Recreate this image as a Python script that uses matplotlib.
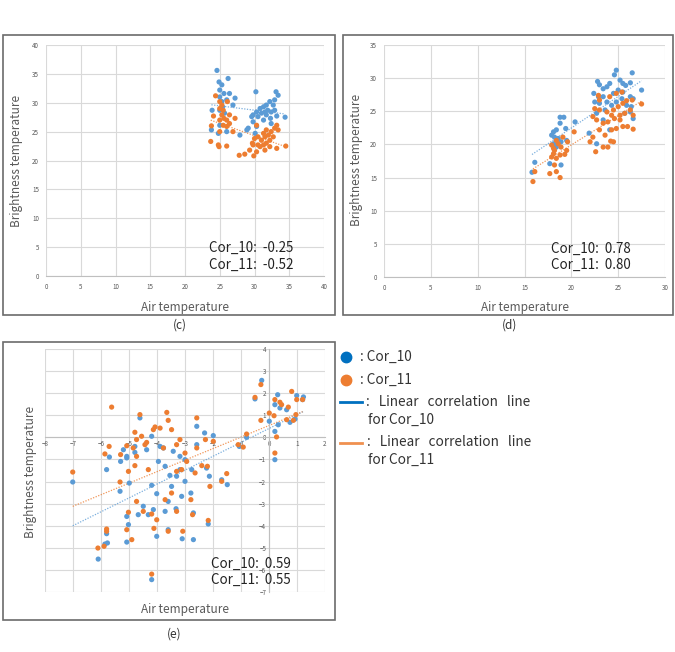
import numpy as np
import matplotlib
matplotlib.use("Agg")
import matplotlib.pyplot as plt
from matplotlib.patches import Rectangle
from matplotlib.lines import Line2D

plt.rcParams['font.family'] = ['Noto Sans CJK KR', 'DejaVu Sans']

BLUE = '#5B9BD5'
ORANGE = '#ED7D31'
GRID = '#D9D9D9'
TXT = '#595959'

# ---------------- Panel (c) data ----------------
c_x10 = [24.6, 24.9, 26.2, 25.3, 25.0, 25.6, 25.0, 26.4, 25.3, 26.0, 27.2, 23.9, 26.9, 25.0, 25.4, 25.7,
         24.8, 26.0, 23.8, 25.0, 30.2, 33.1, 33.4, 32.9, 29.6, 29.8, 30.3, 30.8, 31.3, 31.7, 32.2, 32.7,
         32.9, 32.4, 31.7, 31.3, 30.5, 31.0, 31.9, 31.5, 32.3, 33.2, 34.4, 30.3, 29.1, 27.9, 30.1, 28.9,
         32.4, 29.8]
c_y10 = [35.6, 33.6, 34.2, 33.1, 32.2, 31.6, 31.0, 31.6, 30.2, 30.5, 30.8, 28.7, 29.6, 28.7, 29.3, 28.2,
         24.7, 25.0, 25.3, 26.1, 31.9, 31.9, 31.3, 30.5, 27.6, 26.7, 28.4, 29.0, 29.3, 29.6, 30.2, 29.6,
         28.7, 28.4, 27.9, 27.0, 27.6, 28.2, 28.7, 28.4, 27.3, 27.7, 27.5, 25.9, 25.6, 24.4, 24.7, 25.3,
         26.4, 27.9]
c_x11 = [24.4, 24.1, 23.8, 23.7, 24.8, 24.9, 26.0, 25.0, 25.3, 25.0, 25.5, 25.3, 25.6, 25.0, 26.0, 25.5,
         26.0, 26.4, 27.2, 26.4, 26.9, 26.1, 25.0, 27.8, 28.6, 29.3, 29.9, 30.3, 29.7, 30.0, 30.5, 31.0,
         31.5, 32.0, 32.4, 32.9, 33.2, 33.4, 31.3, 31.7, 32.2, 32.7, 30.8, 31.5, 33.2, 34.5, 30.3, 32.2,
         30.5, 31.3, 29.8, 31.7]
c_y11 = [31.2, 27.7, 26.0, 23.3, 22.7, 22.4, 22.5, 30.2, 29.6, 29.0, 28.7, 27.9, 27.3, 27.0, 27.0, 26.1,
         25.9, 27.9, 27.3, 26.4, 25.0, 30.2, 25.0, 20.9, 21.1, 21.8, 20.8, 21.5, 23.0, 23.8, 24.1, 23.5,
         24.1, 24.4, 25.0, 25.6, 26.1, 25.3, 22.7, 23.0, 23.5, 24.1, 22.4, 21.8, 22.1, 22.5, 26.1, 22.4,
         22.7, 24.7, 22.7, 25.3]

# ---------------- Panel (d) data ----------------
d_x10 = [15.8, 16.1, 17.7, 17.9, 18.1, 18.4, 18.8, 19.2, 18.8, 19.4, 18.2, 18.6, 18.1, 18.4, 18.9, 19.5,
         18.9, 20.4, 21.9, 22.7, 22.8, 23.0, 23.4, 23.8, 24.1, 24.8, 24.6, 25.2, 25.5, 25.8, 26.3, 26.5,
         27.5, 22.4, 22.9, 23.4, 24.5, 25.0, 25.5, 26.3, 26.6, 22.5, 23.0, 23.8, 24.3, 24.8, 25.9, 26.4,
         26.6, 24.1, 23.4, 22.7, 25.7, 26.3, 23.6, 25.4]
d_y10 = [15.8, 17.3, 17.1, 21.4, 21.9, 22.2, 24.1, 24.1, 23.2, 22.4, 21.1, 20.9, 20.1, 19.6, 20.4, 20.6,
         16.9, 23.4, 21.7, 20.1, 29.5, 29.0, 28.4, 28.7, 29.2, 31.2, 30.5, 29.7, 29.2, 28.9, 29.3, 30.8,
         28.2, 27.7, 27.2, 27.2, 27.7, 28.2, 27.9, 27.2, 26.9, 26.4, 26.2, 26.4, 25.9, 26.4, 25.9, 25.7,
         23.9, 22.2, 23.7, 24.7, 24.7, 24.9, 25.2, 26.9]
d_x11 = [15.9, 16.1, 17.7, 18.4, 18.8, 18.2, 17.9, 18.1, 18.4, 18.8, 18.2, 17.9, 18.1, 18.6, 18.9, 19.3,
         19.5, 19.1, 18.4, 19.6, 20.3, 22.0, 22.6, 22.3, 23.4, 23.9, 24.2, 24.5, 23.0, 23.6, 24.3, 24.8,
         25.5, 26.0, 26.6, 22.7, 23.4, 23.9, 24.6, 25.2, 25.7, 26.3, 22.5, 23.0, 23.8, 24.5, 25.0, 25.5,
         25.9, 26.5, 23.0, 24.1, 24.8, 25.4, 22.9, 27.5, 26.6, 22.3, 24.3, 25.2]
d_y11 = [14.4, 15.9, 15.6, 15.9, 15.0, 16.9, 18.1, 18.6, 17.9, 18.4, 19.1, 19.9, 19.4, 20.1, 19.6, 18.5,
         19.1, 21.1, 20.6, 20.4, 21.9, 20.4, 18.9, 21.1, 19.6, 19.6, 20.5, 20.4, 22.2, 21.4, 22.2, 22.4,
         22.7, 22.7, 22.3, 23.7, 23.2, 23.4, 23.9, 24.4, 24.7, 25.2, 25.4, 25.2, 24.9, 25.2, 25.7, 26.2,
         26.6, 26.7, 26.7, 27.2, 27.7, 27.9, 27.4, 26.1, 24.4, 24.2, 24.4, 23.7]

# ---------------- Panel (e) data ----------------
e_x10 = [-7.01, -5.80, -5.70, -6.10, -5.86, -5.77, -5.80, -5.32, -5.30, -5.08, -5.08, -4.99, -5.08, -5.02,
         -5.08, -4.79, -4.79, -4.61, -4.67, -4.49, -4.31, -4.19, -4.19, -4.01, -4.01, -4.13, -3.95, -3.77,
         -3.71, -3.60, -3.71, -3.60, -3.54, -3.48, -3.30, -3.18, -3.10, -3.12, -3.32, -3.00, -3.00, -3.18,
         -3.42, -2.76, -2.79, -2.70, -2.70, -2.58, -2.58, -2.30, -1.99, -2.23, -2.13, -2.17, -1.69, -1.49,
         -0.80, -1.06, -0.50, -0.26, 0.01, 0.21, 0.21, 0.21, 0.31, 0.33, 0.39, 0.75, 0.93, 0.99, 1.23,
         1.20, 0.63, -3.89, -4.37, -4.19, -5.20]
e_y10 = [-2.02, -1.46, -0.89, -5.51, -4.83, -4.78, -4.36, -2.44, -1.09, -0.93, -0.86, -2.07, -3.58, -3.95,
         -4.74, -0.68, -0.41, 0.88, -3.50, -3.12, -3.50, -6.44, -2.17, -2.55, -4.48, -3.27, -1.09, -0.48,
         -1.31, -4.18, -3.35, -2.90, -1.72, -2.22, -1.76, -1.46, -4.59, -2.67, -3.23, -1.99, -1.01, -0.86,
         -0.63, -1.46, -2.52, -3.42, -4.63, 0.50, -0.33, 0.20, 0.08, -1.39, -1.76, -3.92, -1.92, -2.14,
         0.00, -0.41, 1.74, 2.58, 0.73, 0.27, -1.01, 1.48, 1.93, 0.57, 1.33, 0.68, 0.83, 1.89, 1.83,
         1.71, 1.25, -0.41, -0.56, 0.05, -0.56]
e_x11 = [-7.01, -5.62, -6.11, -5.89, -5.80, -5.80, -5.71, -5.86, -5.32, -5.30, -5.08, -5.02, -5.02, -5.08,
         -4.90, -4.79, -4.73, -4.61, -4.73, -4.79, -4.73, -4.49, -4.37, -4.31, -4.19, -4.19, -4.13, -4.07,
         -4.01, -4.11, -3.89, -3.77, -3.65, -3.60, -3.48, -3.71, -3.60, -3.48, -3.30, -3.18, -3.30, -3.12,
         -3.08, -3.30, -3.00, -2.94, -2.79, -2.73, -2.58, -2.58, -2.64, -2.40, -2.20, -2.27, -1.99, -2.11,
         -2.17, -1.69, -1.51, -1.10, -0.92, -0.80, -0.50, -0.29, -0.29, 0.01, 0.18, 0.21, 0.27, 0.21,
         0.39, 0.45, 0.69, 0.81, 0.96, 0.99, 1.20, 0.63, 0.87, -4.85, -4.55, -4.43]
e_y11 = [-1.57, 1.37, -5.01, -4.93, -4.15, -4.25, -0.41, -0.75, -2.02, -0.78, -0.38, -1.54, -3.39, -4.18,
         -4.63, 0.23, -0.10, 1.03, -0.86, -1.28, -2.90, -3.35, -0.23, -1.46, -6.19, -3.47, 0.35, 0.47,
         -3.73, -4.12, 0.42, -0.48, 1.13, 0.77, 0.35, -2.82, -4.25, -2.52, -0.33, -0.10, -1.54, -1.46,
         -4.25, -3.35, -0.71, -1.09, -2.82, -3.50, 0.88, -0.48, -1.61, -1.28, -1.31, -0.10, -0.18, -2.22,
         -3.76, -1.99, -1.64, -0.33, -0.44, 0.15, 1.81, 2.39, 0.77, 1.10, 0.98, 1.71, 0.02, -0.71,
         1.59, 1.48, 1.37, 2.08, 1.03, 1.71, 1.71, 0.80, 0.77, -0.48, 0.05, -0.33]

cor_c = ["Cor_10:  -0.25", "Cor_11:  -0.52"]
cor_d = ["Cor_10:  0.78", "Cor_11:  0.80"]
cor_e = ["Cor_10:  0.59", "Cor_11:  0.55"]

W, H = 675, 652
fig = plt.figure(figsize=(W / 100, H / 100), dpi=100)


def fr(x0, y0, x1, y1):
    return [x0 / W, 1 - y1 / H, (x1 - x0) / W, (y1 - y0) / H]


def frame(x0, y0, x1, y1):
    fig.add_artist(Rectangle((x0 / W, 1 - y1 / H), (x1 - x0) / W, (y1 - y0) / H,
                             transform=fig.transFigure, fill=False, ec='#6b6b6b', lw=1.2))


def scatter_with_fit(ax, xs, ys, color):
    ax.scatter(xs, ys, s=14, color=color, edgecolors='none', zorder=3)
    xs_a = np.asarray(xs)
    k, b = np.polyfit(xs_a, np.asarray(ys), 1)
    xx = np.array([xs_a.min(), xs_a.max()])
    ax.plot(xx, k * xx + b, linestyle=(0, (1, 1.2)), lw=0.9, color=color, alpha=0.8, zorder=2)


def style_box(ax, xmax, ymax):
    ax.set_xlim(0, xmax)
    ax.set_ylim(0, ymax)
    ax.set_xticks(np.arange(0, xmax + 1, 5))
    ax.set_yticks(np.arange(0, ymax + 1, 5))
    ax.grid(True, color=GRID, lw=0.8)
    ax.set_axisbelow(True)
    for s in ['top', 'right', 'left']:
        ax.spines[s].set_visible(False)
    ax.spines['bottom'].set_color('#BFBFBF')
    ax.spines['bottom'].set_linewidth(0.8)
    ax.tick_params(length=0, labelsize=4.5, labelcolor=TXT, pad=5)
    ax.set_facecolor('none')


ANN = dict(fontsize=9.6, va='center', ha='left', color='#222222')

# ---------------- (c) ----------------
axc = fig.add_axes(fr(46, 45, 324, 276))
style_box(axc, 40, 40)
scatter_with_fit(axc, c_x10, c_y10, BLUE)
scatter_with_fit(axc, c_x11, c_y11, ORANGE)
axc.set_xlabel("Air temperature", fontsize=8.5, color=TXT)
axc.set_ylabel("Brightness temperature", fontsize=8.5, color=TXT)
axc.xaxis.set_label_coords(0.5, -0.107)
axc.yaxis.set_label_coords(-0.084, 0.5)
axc.text(0.586, 0.121, cor_c[0], transform=axc.transAxes, **ANN)
axc.text(0.586, 0.048, cor_c[1], transform=axc.transAxes, **ANN)
frame(3, 35, 335, 315)
fig.text(180 / W, 1 - 325 / H, "(c)", ha='center', va='center', fontsize=8.5, color='#333333')

# ---------------- (d) ----------------
axd = fig.add_axes(fr(384, 45, 665, 277))
style_box(axd, 30, 35)
scatter_with_fit(axd, d_x10, d_y10, BLUE)
scatter_with_fit(axd, d_x11, d_y11, ORANGE)
axd.set_xlabel("Air temperature", fontsize=8.5, color=TXT)
axd.set_ylabel("Brightness temperature", fontsize=8.5, color=TXT)
axd.xaxis.set_label_coords(0.502, -0.102)
axd.yaxis.set_label_coords(-0.076, 0.504)
axd.text(0.593, 0.121, cor_d[0], transform=axd.transAxes, **ANN)
axd.text(0.593, 0.052, cor_d[1], transform=axd.transAxes, **ANN)
frame(343, 35, 673, 315)
fig.text(510 / W, 1 - 325 / H, "(d)", ha='center', va='center', fontsize=8.5, color='#333333')

# ---------------- (e) ----------------
axe = fig.add_axes(fr(45, 349, 325, 592))
axe.set_xlim(-8, 2)
axe.set_ylim(-7, 4)
axe.set_xticks(np.arange(-8, 3, 1))
axe.set_yticks(np.arange(-7, 5, 1))
axe.grid(True, color=GRID, lw=0.8)
axe.set_axisbelow(True)
axe.spines['top'].set_visible(False)
axe.spines['right'].set_visible(False)
axe.spines['left'].set_position(('data', 0))
axe.spines['bottom'].set_position(('data', 0))
for s in ['left', 'bottom']:
    axe.spines[s].set_color('#BFBFBF')
    axe.spines[s].set_linewidth(0.8)
axe.tick_params(length=0, labelsize=4.5, labelcolor=TXT, pad=2)
axe.set_facecolor('none')
scatter_with_fit(axe, e_x10, e_y10, BLUE)
scatter_with_fit(axe, e_x11, e_y11, ORANGE)
axe.set_xlabel("Air temperature", fontsize=8.5, color=TXT)
axe.set_ylabel("Brightness temperature", fontsize=8.5, color=TXT)
axe.xaxis.set_label_coords(0.5, -0.047)
axe.yaxis.set_label_coords(-0.03, 0.495)
axe.text(0.592, 0.115, cor_e[0], transform=axe.transAxes, **ANN)
axe.text(0.592, 0.049, cor_e[1], transform=axe.transAxes, **ANN)
frame(3, 342, 335, 620)
fig.text(174 / W, 1 - 634 / H, "(e)", ha='center', va='center', fontsize=8.5, color='#333333')

# ---------------- legend ----------------
LBLUE = '#0070C0'
LTXT = '#333333'
fig.add_artist(Line2D([345.7 / W], [1 - 356.7 / H], marker='o', ms=7.5, color=LBLUE, lw=0, transform=fig.transFigure))
fig.add_artist(Line2D([345.7 / W], [1 - 380.3 / H], marker='o', ms=7.5, color=ORANGE, lw=0, transform=fig.transFigure))
fig.add_artist(Line2D([340 / W, 362 / W], [1 - 401.7 / H] * 2, color=LBLUE, lw=2, transform=fig.transFigure))
fig.add_artist(Line2D([340 / W, 362 / W], [1 - 442.7 / H] * 2, color=ORANGE, lw=2, transform=fig.transFigure, alpha=0.85))
fig.text(360 / W, 1 - 357 / H, ": Cor_10", fontsize=9.8, va='center', ha='left', color=LTXT)
fig.text(360 / W, 1 - 380 / H, ": Cor_11", fontsize=9.8, va='center', ha='left', color=LTXT)
fig.text(366 / W, 1 - 402 / H, ":   Linear   correlation   line", fontsize=9.8, va='center', ha='left', color=LTXT)
fig.text(368 / W, 1 - 420 / H, "for Cor_10", fontsize=9.8, va='center', ha='left', color=LTXT)
fig.text(367 / W, 1 - 442 / H, ":   Linear   correlation   line", fontsize=9.8, va='center', ha='left', color=LTXT)
fig.text(368 / W, 1 - 460 / H, "for Cor_11", fontsize=9.8, va='center', ha='left', color=LTXT)

fig.savefig("out.png", dpi=100, facecolor='white')
